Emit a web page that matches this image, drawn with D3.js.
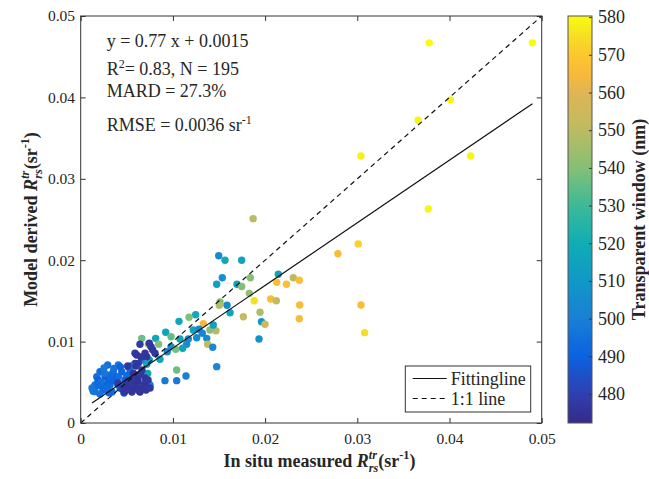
<!DOCTYPE html>
<html><head><meta charset="utf-8">
<script src="https://cdn.jsdelivr.net/npm/d3@7"></script>
<style>
body{margin:0;background:#fff}
svg{display:block}
text{font-family:"Liberation Serif","Times New Roman",serif;fill:#262626}
</style>
</head><body>
<svg id="chart" width="649" height="479"></svg>
<script>
// ---------------- data ----------------
const measuredX = [
  0.0378,0.0490,0.0401,0.0366,0.0304,0.0423,0.0377,0.0301,0.0279,0.0304,0.0308,0.0187,
  0.01497,0.01565,0.01746,0.01536,0.01475,0.01695,0.0184,0.01746,0.01829,0.01883,
  0.02143,0.02126,0.02232,0.02306,0.02371,0.02061,0.02122,0.02375,0.02371,0.01945,
  0.01764,0.01961,0.01999,0.01934,0.01511,0.01503,0.01587,0.0162,0.01247,0.01175,
  0.01066,0.0133,0.01221,0.01283,0.01402,0.01467,0.01319,0.01258,0.01367,0.01438,
  0.00922,0.0098,0.01077,0.01167,0.01377,0.01432,0.01475,
  0.00813,0.00662,0.00734,0.00845,0.00643,0.01149,0.01106,0.00762,0.0098,0.0103,
  0.00939,0.00589,0.00806,0.0086,0.00744,0.00662,0.00716,0.00625,0.01041,0.00727,
  0.00914,0.01041,0.01142,0.00733,0.00752,0.00607,0.00716,0.00744,0.00589,0.00516,
  0.00698,0.00655,0.0078,
  0.00293,0.00408,0.00209,0.00354,0.00445,0.00174,0.00264,0.00372,0.0048,0.00155,
  0.00242,0.00318,0.00155,0.00242,0.00123,0.00188,0.0034,0.00426,0.00253,0.00535,
  0.00383,0.00296,0.00209,0.0047,0.00135,0.0032,0.0040,0.0028,0.0050,0.0036,
  0.0022,0.0045,0.0019,0.0031,0.0055,0.0043,0.0026,0.0034,0.0041,0.0029,
  0.0051,0.00571,0.0060,0.00665,0.00622,0.00698,0.00405,0.00513,0.00622,0.0073,
  0.00535,0.00589,0.00676,0.00643,0.00556,0.0047,0.00708,0.00752,0.00491,0.00578,
  0.0066,0.0060,0.0070,0.0063,0.0054,0.0045,0.0068,0.0057,0.0065,0.0049
];
const modelY = [
  0.0467,0.0467,0.0397,0.0372,0.0328,0.0328,0.0263,0.0220,0.0208,0.0145,0.0111,0.0251,
  0.02055,0.0200,0.0200,0.01785,0.01704,0.01704,0.01785,0.01677,0.01593,0.01502,
  0.01827,0.01729,0.01704,0.01785,0.01753,0.01523,0.01502,0.0145,0.01281,0.0136,
  0.01306,0.01245,0.01213,0.01032,0.01486,0.01446,0.01446,0.01355,0.0133,0.01299,
  0.01249,0.0122,0.01143,0.01151,0.01143,0.01134,0.01102,0.01048,0.0104,0.01204,
  0.01114,0.0106,0.01032,0.01032,0.00967,0.0093,0.00692,
  0.0104,0.0104,0.00967,0.00967,0.00967,0.00967,0.00918,0.00937,0.00937,0.00905,
  0.00876,0.00856,0.00856,0.00783,0.00774,0.00774,0.00721,0.00733,0.00651,0.0061,
  0.0052,0.0052,0.00577,0.00488,0.00467,0.00835,0.00815,0.00979,0.00733,0.00692,
  0.00856,0.0081,0.0090,
  0.00713,0.00713,0.0063,0.0063,0.0063,0.00569,0.00569,0.00528,0.00528,0.00467,
  0.00467,0.00467,0.00385,0.00405,0.0043,0.00528,0.00381,0.0043,0.00676,0.00627,
  0.00565,0.00504,0.00356,0.00369,0.0039,0.0059,0.0048,0.0042,0.0058,0.0067,
  0.0050,0.0045,0.0046,0.0037,0.0070,0.0069,0.0061,0.0052,0.0057,0.0044,
  0.0070,0.00611,0.0070,0.00651,0.00577,0.00553,0.00491,0.00516,0.00516,0.00528,
  0.0043,0.00491,0.00467,0.00381,0.00381,0.00381,0.00405,0.0043,0.00455,0.00418,
  0.0042,0.0045,0.0048,0.0040,0.0048,0.0042,0.00446,0.0054,0.0060,0.0040
];
const windowNm = [
  580,580,579,579,578,579,579,572,566,566,575,550,
  505,518,515,507,513,515,540,540,542,575,
  515,567,567,550,567,566,552,566,566,548,
  552,510,555,508,540,548,505,515,517,540,
  517,565,515,503,540,548,503,505,505,513,
  515,535,515,505,552,503,503,
  517,537,552,540,478,505,515,477,505,538,
  503,477,477,515,513,500,515,478,537,515,
  498,498,500,500,500,476,476,477,477,478,
  476,476,477,
  495,497,493,495,492,495,490,493,490,496,
  492,495,497,492,498,490,494,492,498,494,
  488,491,496,493,497,493,490,494,492,496,
  495,491,493,492,495,490,497,491,494,493,
  477,476,476,477,475,476,478,476,475,476,
  475,475,476,475,476,477,476,477,476,475,
  476,475,477,476,477,478,476,476,477,476
];
const xTicks = [0, 0.01, 0.02, 0.03, 0.04, 0.05];
const yTicks = [0, 0.01, 0.02, 0.03, 0.04, 0.05];
const cbTicks = [480, 490, 500, 510, 520, 530, 540, 550, 560, 570, 580];
const cbStops  = [472, 480, 490, 500, 510, 520, 530, 540, 550, 560, 565, 570, 575, 580];
const cbColors = ["#352a87","#2f3fb0","#0b62e0","#1a7fd6","#1098c8","#0fadb4","#3cba96",
                  "#85bf76","#bcbb62","#e0b556","#f8b93a","#fcc72e","#f5df25","#f9fb0e"];
const fitSlope = 0.77, fitIntercept = 0.0015;

// ---------------- layout ----------------
const svg = d3.select("#chart");
const P = {left: 80.7, right: 541.7, top: 16, bottom: 423};
const x = d3.scaleLinear().domain([0, 0.05]).range([P.left, P.right]);
const y = d3.scaleLinear().domain([0, 0.05]).range([P.bottom, P.top]);
const cbScale = d3.scaleLinear().domain([472.3, 580.3]).range([P.bottom, P.top]);
const color = d3.scaleLinear().domain(cbStops).range(cbColors).interpolate(d3.interpolateRgb).clamp(true);
const axisCol = "#333";

const fmt = d => d === 0 ? "0" : d3.format(".2f")(d);

svg.append("rect").attr("x", P.left).attr("y", P.top)
  .attr("width", P.right - P.left).attr("height", P.bottom - P.top).attr("fill", "#fff");

// points
const pts = measuredX.map((v, i) => ({x: v, y: modelY[i], w: windowNm[i]}));
svg.append("g").selectAll("circle").data(pts).join("circle")
  .attr("cx", d => x(d.x)).attr("cy", d => y(d.y)).attr("r", 3.7)
  .attr("fill", d => color(d.w));

// 1:1 line
svg.append("line")
  .attr("x1", x(0)).attr("y1", y(0)).attr("x2", x(0.05)).attr("y2", y(0.05))
  .attr("stroke", "#111").attr("stroke-width", 1.2).attr("stroke-dasharray", "5,4");
// fitting line
const ext = d3.extent(measuredX);
svg.append("line")
  .attr("x1", x(ext[0])).attr("y1", y(fitSlope * ext[0] + fitIntercept))
  .attr("x2", x(ext[1])).attr("y2", y(fitSlope * ext[1] + fitIntercept))
  .attr("stroke", "#111").attr("stroke-width", 1.2);

// axes
function styleAxis(g, fs) {
  g.selectAll("path.domain").remove();
  g.selectAll(".tick line").attr("stroke", axisCol);
  g.selectAll(".tick text").attr("font-size", fs).attr("fill", "#262626")
    .attr("font-family", '"Liberation Serif","Times New Roman",serif');
}
svg.append("g").attr("transform", `translate(0,${P.bottom})`)
  .call(d3.axisBottom(x).tickValues(xTicks).tickFormat(fmt).tickSizeInner(-5).tickSizeOuter(0).tickPadding(9.5))
  .call(g => styleAxis(g, 15.5));
svg.append("g").attr("transform", `translate(0,${P.top})`)
  .call(d3.axisTop(x).tickValues(xTicks).tickFormat("").tickSizeInner(-5).tickSizeOuter(0))
  .call(g => styleAxis(g, 15.5));
svg.append("g").attr("transform", `translate(${P.left},0)`)
  .call(d3.axisLeft(y).tickValues(yTicks).tickFormat(fmt).tickSizeInner(-5).tickSizeOuter(0).tickPadding(5.7))
  .call(g => styleAxis(g, 15.5));
svg.append("g").attr("transform", `translate(${P.right},0)`)
  .call(d3.axisRight(y).tickValues(yTicks).tickFormat("").tickSizeInner(-5).tickSizeOuter(0))
  .call(g => styleAxis(g, 15.5));
svg.append("rect").attr("x", P.left).attr("y", P.top)
  .attr("width", P.right - P.left).attr("height", P.bottom - P.top)
  .attr("fill", "none").attr("stroke", axisCol).attr("stroke-width", 1);

// statistics text
const stat = svg.append("g").attr("font-size", 18);
stat.append("text").attr("x", 106.7).attr("y", 46.7).text("y = 0.77 x + 0.0015");
const t2 = stat.append("text").attr("x", 106.7).attr("y", 74.5);
t2.append("tspan").text("R");
t2.append("tspan").attr("font-size", 12).attr("dy", -7).text("2");
t2.append("tspan").attr("dy", 7).text("= 0.83, N = 195");
stat.append("text").attr("x", 106.7).attr("y", 96.5).text("MARD = 27.3%");
const t4 = stat.append("text").attr("x", 106.7).attr("y", 130.7);
t4.append("tspan").text("RMSE = 0.0036 sr");
t4.append("tspan").attr("font-size", 12).attr("dy", -7).text("-1");

// legend
const lg = svg.append("g");
lg.append("rect").attr("x", 405.3).attr("y", 366).attr("width", 125.4).attr("height", 46)
  .attr("fill", "#fff").attr("stroke", axisCol).attr("stroke-width", 1);
lg.append("line").attr("x1", 412.7).attr("x2", 446.7).attr("y1", 378.5).attr("y2", 378.5)
  .attr("stroke", "#111").attr("stroke-width", 1.2);
lg.append("line").attr("x1", 412.7).attr("x2", 446.7).attr("y1", 398.5).attr("y2", 398.5)
  .attr("stroke", "#111").attr("stroke-width", 1.2).attr("stroke-dasharray", "5,4");
lg.append("text").attr("x", 450.7).attr("y", 384.5).attr("font-size", 18).text("Fittingline");
lg.append("text").attr("x", 450.7).attr("y", 404.5).attr("font-size", 18).text("1:1 line");

// rich axis title: prefix + R^tr_rs(sr^-1)
function richTitle(g, prefix, fs) {
  const t = g.append("text").attr("font-size", fs).attr("font-weight", "bold");
  t.append("tspan").text(prefix);
  t.append("tspan").attr("font-style", "italic").text("R");
  const sup = t.append("tspan").attr("font-style", "italic").attr("font-size", fs * 0.68).attr("dy", -fs * 0.42).text("tr");
  const len = sup.node().getComputedTextLength();
  t.append("tspan").attr("font-style", "italic").attr("font-size", fs * 0.68)
    .attr("dx", -len).attr("dy", fs * 0.72).text("rs");
  t.append("tspan").attr("dy", -fs * 0.30).text("(sr");
  t.append("tspan").attr("font-size", fs * 0.68).attr("dy", -fs * 0.42).text("-1");
  t.append("tspan").attr("dy", fs * 0.42).text(")");
  return t;
}
const xt = richTitle(svg.append("g"), "In situ measured ", 18);
{
  const b = xt.node().getBBox();
  xt.attr("x", 319.5 - b.width / 2).attr("y", 467);
}
const ytG = svg.append("g");
const yt = richTitle(ytG, "Model derived ", 18);
{
  const b = yt.node().getBBox();
  yt.attr("x", 0).attr("y", 0);
  ytG.attr("transform", `translate(37,${(P.top + P.bottom) / 2 + b.width / 2}) rotate(-90)`);
}

// colorbar
const cbX = 568, cbW = 24;
const defs = svg.append("defs");
const grad = defs.append("linearGradient").attr("id", "cbg")
  .attr("x1", 0).attr("y1", 1).attr("x2", 0).attr("y2", 0);
const [d0, d1] = cbScale.domain();
d3.range(0, 101).forEach(i => {
  const v = d0 + (d1 - d0) * i / 100;
  grad.append("stop").attr("offset", i + "%").attr("stop-color", color(v));
});
svg.append("rect").attr("x", cbX).attr("y", P.top).attr("width", cbW).attr("height", P.bottom - P.top)
  .attr("fill", "url(#cbg)");
svg.append("g").attr("transform", `translate(${cbX + cbW},0)`)
  .call(d3.axisRight(cbScale).tickValues(cbTicks).tickFormat(d3.format("d")).tickSizeInner(-3).tickSizeOuter(0).tickPadding(6))
  .call(g => styleAxis(g, 18));
svg.append("rect").attr("x", cbX).attr("y", P.top).attr("width", cbW).attr("height", P.bottom - P.top)
  .attr("fill", "none").attr("stroke", "#555").attr("stroke-width", 1);
svg.append("text").attr("font-size", 18).attr("font-weight", "bold")
  .attr("text-anchor", "middle")
  .attr("transform", `translate(645,${(P.top + P.bottom) / 2}) rotate(-90)`)
  .text("Transparent window (nm)");
</script>
</body></html>
